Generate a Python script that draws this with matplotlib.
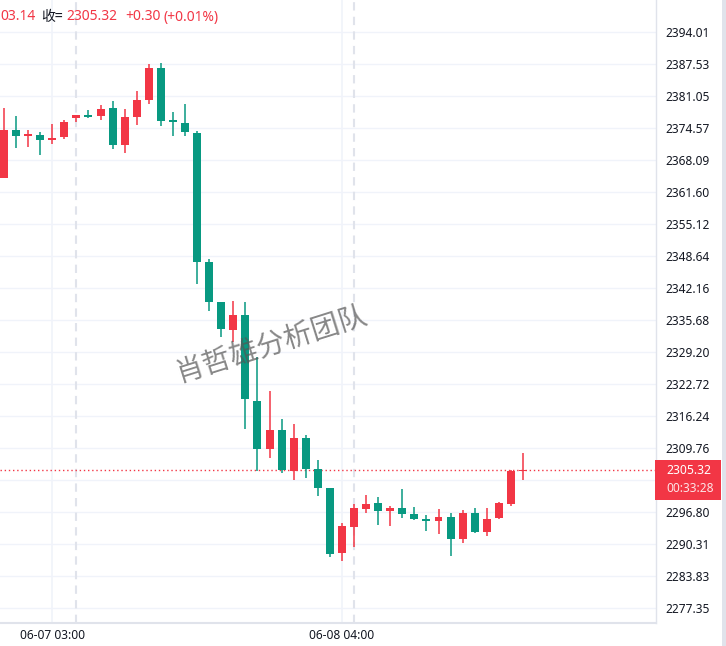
import matplotlib
matplotlib.use('Agg')
import matplotlib.pyplot as plt
from matplotlib.patches import Rectangle
import numpy as np

plt.rcParams['font.family'] = ['Noto Sans', 'Noto Sans CJK SC', 'DejaVu Sans']

# ─────────────────────────────────────────
# DATA  (hourly candles)
# ─────────────────────────────────────────
opens = [2364.45, 2374.17, 2373.05, 2373.09, 2372.20, 2372.75, 2376.65, 2377.00, 2377.06, 2378.62,
         2371.19, 2376.80, 2380.24, 2386.72, 2375.99, 2375.58, 2373.56, 2347.44, 2339.34, 2333.73,
         2336.70, 2319.29, 2309.63, 2313.42, 2305.17, 2311.79, 2305.52, 2301.67, 2288.57, 2293.77,
         2297.42, 2298.63, 2297.01, 2297.62, 2296.40, 2295.45, 2294.99, 2295.79, 2291.34, 2296.60,
         2292.76, 2295.59, 2298.43, 2305.02]
highs = [2378.62, 2377.00, 2374.17, 2373.76, 2375.38, 2376.19, 2377.26, 2378.22, 2379.23, 2380.04,
         2378.42, 2382.06, 2387.53, 2387.79, 2377.81, 2379.43, 2374.02, 2347.98, 2339.34, 2339.54,
         2339.34, 2328.26, 2321.31, 2315.58, 2314.63, 2312.40, 2307.34, 2301.67, 2294.58, 2298.43,
         2300.25, 2299.85, 2298.02, 2301.47, 2297.82, 2296.14, 2297.42, 2296.60, 2297.21, 2297.62,
         2297.62, 2298.90, 2305.32, 2308.76]
lows = [2364.40, 2370.58, 2370.78, 2369.16, 2371.39, 2372.40, 2375.85, 2376.53, 2376.25, 2370.32,
        2369.51, 2375.18, 2379.43, 2374.97, 2372.95, 2372.95, 2342.98, 2337.51, 2332.31, 2331.30,
        2313.68, 2305.17, 2307.74, 2304.77, 2303.29, 2303.70, 2300.11, 2287.76, 2286.95, 2289.72,
        2296.60, 2294.18, 2293.97, 2295.59, 2295.19, 2292.96, 2292.35, 2287.90, 2290.53, 2292.55,
        2291.95, 2295.39, 2298.02, 2303.29]
closes = [2374.17, 2373.01, 2373.15, 2372.20, 2372.55, 2375.79, 2377.20, 2376.88, 2378.42, 2371.19,
          2376.80, 2380.24, 2386.72, 2376.05, 2375.87, 2373.82, 2347.50, 2339.40, 2333.93, 2336.70,
          2319.63, 2309.63, 2313.42, 2305.32, 2311.79, 2305.58, 2301.73, 2288.37, 2293.97, 2297.62,
          2298.43, 2297.07, 2297.62, 2296.46, 2295.45, 2295.05, 2295.79, 2291.34, 2296.60, 2292.76,
          2295.39, 2298.63, 2305.11, 2305.32]

price_ticks = [2394.01, 2387.53, 2381.05, 2374.57, 2368.09, 2361.60, 2355.12, 2348.64, 2342.16,
               2335.68, 2329.20, 2322.72, 2316.24, 2309.76, 2303.28, 2296.80, 2290.31, 2283.83, 2277.35]
time_ticks = [4, 28]
time_labels = ['06-07 03:00', '06-08 04:00']
day_breaks = [6, 29]
last_price = 2305.32
countdown = '00:33:28'

UP = '#F23645'
DOWN = '#089981'
GRID = '#F0F3FA'
BORDER = '#E0E3EB'
TXT = '#131722'

W, H = 726, 646
def fx(x): return x / W
def fy(y): return 1 - y / H

# ─────────────────────────────────────────
# FIGURE
# ─────────────────────────────────────────
fig = plt.figure(figsize=(W / 100, H / 100), dpi=100, facecolor='white')
ax = fig.add_axes([0, 23 / H, 656 / W, 623 / H])
ax.set_facecolor('white')

ax.set_xlim(-0.331, 54.02)
ax.set_ylim(2274.33, 2400.49)

# grid
for p in price_ticks:
    ax.axhline(p, color=GRID, lw=1, zorder=0)
for t in time_ticks:
    ax.axvline(t, color=GRID, lw=1.2, zorder=0)
for d in day_breaks:
    ax.axvline(d, color=BORDER, lw=1.5, ls=(0, (4, 3)), zorder=0)

# candles
x = np.arange(len(opens))
for i in x:
    o, h, l, c = opens[i], highs[i], lows[i], closes[i]
    col = UP if c >= o else DOWN
    ax.vlines(i, l, h, color=col, lw=1.1, zorder=2)
    body = max(abs(c - o), 0.25)
    ax.bar(i, body, bottom=min(o, c), width=0.66, color=col, linewidth=0, zorder=3)

# last price line
ax.axhline(last_price, color=UP, lw=1, ls=(0, (1, 2)), zorder=1)

# axes
ax.yaxis.tick_right()
ax.set_yticks(price_ticks)
ax.set_yticklabels([f'{p:.2f}' if p != 2303.28 else '' for p in price_ticks])
ax.set_xticks(time_ticks)
ax.set_xticklabels(time_labels)
ax.tick_params(axis='y', length=0, pad=7, labelsize=8.6, labelcolor=TXT)
ax.tick_params(axis='x', length=0, pad=4, labelsize=8.6, labelcolor=TXT)
for s in ['top', 'left']:
    ax.spines[s].set_visible(False)
ax.spines['right'].set_color(BORDER)
ax.spines['bottom'].set_color(BORDER)
ax.spines['right'].set_linewidth(1)
ax.spines['bottom'].set_linewidth(1.5)

# watermark
fig.text(fx(271), fy(344), '肖哲雄分析团队', family=['Noto Sans CJK SC'],
         fontsize=20.5, color='#555555', alpha=0.7, rotation=17.5,
         ha='center', va='center', zorder=10)

# header text
hy = fy(17)
fig.text(fx(0), hy, '03.14', color=UP, fontsize=10, va='center', ha='left')
fig.text(fx(41), hy, '收=', color=TXT, fontsize=10, va='center', ha='left',
         family=['Noto Sans CJK SC', 'Noto Sans'])
fig.text(fx(66), hy, '2305.32', color=UP, fontsize=10, va='center', ha='left')
fig.text(fx(125), hy, '+0.30', color=UP, fontsize=10, va='center', ha='left')
fig.text(fx(164), hy, '(+0.01%)', color=UP, fontsize=10, va='center', ha='left')

# price box on the axis
fig.patches.append(Rectangle((fx(655), fy(500)), 66 / W, 40 / H,
                             transform=fig.transFigure, facecolor=UP, edgecolor='none', zorder=5))
fig.text(fx(666), fy(471), f'{last_price:.2f}', color='white', fontsize=8.8,
         fontweight='bold', va='center', ha='left', zorder=6)
fig.text(fx(666), fy(489), countdown, color='#FDE3E5', fontsize=8.6,
         va='center', ha='left', zorder=6)

# scrollbar strip on the right
fig.patches.append(Rectangle((fx(722), 0), 4 / W, 1, transform=fig.transFigure,
                             facecolor=BORDER, edgecolor='none', zorder=5))

fig.savefig('out.png', dpi=100, facecolor='white')
